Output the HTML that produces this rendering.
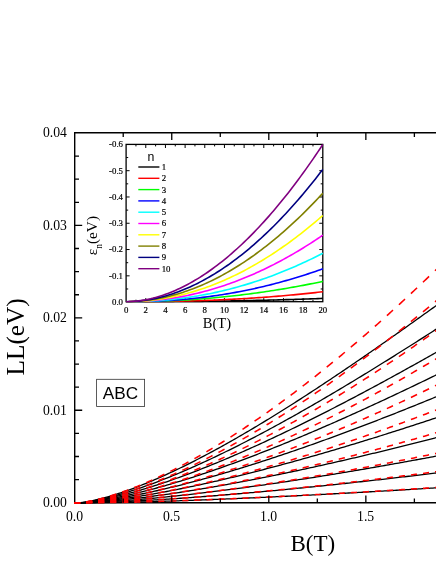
<!DOCTYPE html>
<html><head><meta charset="utf-8"><title>LL chart</title>
<style>html,body{margin:0;padding:0;background:#fff;}body{width:436px;height:564px;overflow:hidden;position:relative;font-family:"Liberation Serif",serif;}</style>
</head><body>
<svg width="436" height="564" viewBox="0 0 436 564" style="position:absolute;left:0;top:0;display:block;will-change:transform">
<rect width="436" height="564" fill="#fff"/>
<defs><clipPath id="mc"><rect x="74.00" y="132.80" width="400" height="370.80"/></clipPath>
<clipPath id="ic"><rect x="125.50" y="143.80" width="197.90" height="158.60"/></clipPath></defs>
<g stroke="#000" stroke-width="1.4" fill="none" stroke-linecap="butt">
<path d="M74.70 132.10 V502.70 H437"/>
<path d="M74.70 132.80 H437"/>
</g>
<g clip-path="url(#mc)" fill="none" stroke-linecap="butt" stroke-linejoin="round">
<polyline points="74.70,503.20 76.70,503.19 78.70,503.18 80.70,503.17 82.70,503.15 84.70,503.13 86.70,503.10 88.70,503.08 90.70,503.05 92.70,503.03 94.70,503.00 96.70,502.96 98.70,502.93 100.70,502.90 102.70,502.86 104.70,502.82 106.70,502.79 108.70,502.75 110.70,502.71 112.70,502.66 114.70,502.62 116.70,502.58 118.70,502.53 120.70,502.49 122.70,502.44 124.70,502.39 126.70,502.34 128.70,502.29 130.70,502.24 132.70,502.19 134.70,502.14 136.70,502.09 138.70,502.03 140.70,501.98 142.70,501.92 144.70,501.86 146.70,501.81 148.70,501.75 150.70,501.69 152.70,501.63 154.70,501.57 156.70,501.51 158.70,501.45 160.70,501.38 162.70,501.32 164.70,501.26 166.70,501.19 168.70,501.13 170.70,501.06 172.70,500.99 174.70,500.92 176.70,500.86 178.70,500.79 180.70,500.72 182.70,500.65 184.70,500.58 186.70,500.50 188.70,500.43 190.70,500.36 192.70,500.29 194.70,500.21 196.70,500.14 198.70,500.06 200.70,499.99 202.70,499.91 204.70,499.83 206.70,499.76 208.70,499.68 210.70,499.60 212.70,499.52 214.70,499.44 216.70,499.36 218.70,499.28 220.70,499.20 222.70,499.12 224.70,499.03 226.70,498.95 228.70,498.87 230.70,498.78 232.70,498.70 234.70,498.61 236.70,498.53 238.70,498.44 240.70,498.36 242.70,498.27 244.70,498.18 246.70,498.09 248.70,498.00 250.70,497.92 252.70,497.83 254.70,497.74 256.70,497.64 258.70,497.55 260.70,497.46 262.70,497.37 264.70,497.28 266.70,497.19 268.70,497.09 270.70,497.00 272.70,496.90 274.70,496.81 276.70,496.71 278.70,496.62 280.70,496.52 282.70,496.43 284.70,496.33 286.70,496.23 288.70,496.13 290.70,496.04 292.70,495.94 294.70,495.84 296.70,495.74 298.70,495.64 300.70,495.54 302.70,495.44 304.70,495.34 306.70,495.23 308.70,495.13 310.70,495.03 312.70,494.93 314.70,494.82 316.70,494.72 318.70,494.62 320.70,494.51 322.70,494.41 324.70,494.30 326.70,494.19 328.70,494.09 330.70,493.98 332.70,493.88 334.70,493.77 336.70,493.66 338.70,493.55 340.70,493.44 342.70,493.33 344.70,493.23 346.70,493.12 348.70,493.01 350.70,492.90 352.70,492.79 354.70,492.67 356.70,492.56 358.70,492.45 360.70,492.34 362.70,492.23 364.70,492.11 366.70,492.00 368.70,491.89 370.70,491.77 372.70,491.66 374.70,491.54 376.70,491.43 378.70,491.31 380.70,491.20 382.70,491.08 384.70,490.96 386.70,490.85 388.70,490.73 390.70,490.61 392.70,490.50 394.70,490.38 396.70,490.26 398.70,490.14 400.70,490.02 402.70,489.90 404.70,489.78 406.70,489.66 408.70,489.54 410.70,489.42 412.70,489.30 414.70,489.18 416.70,489.05 418.70,488.93 420.70,488.81 422.70,488.69 424.70,488.56 426.70,488.44 428.70,488.32 430.70,488.19 432.70,488.07 434.70,487.94 436.70,487.82 438.70,487.69" stroke="#000" stroke-width="1.3"/>
<polyline points="74.70,503.20 76.70,503.19 78.70,503.16 80.70,503.13 82.70,503.10 84.70,503.06 86.70,503.01 88.70,502.96 90.70,502.91 92.70,502.85 94.70,502.79 96.70,502.73 98.70,502.66 100.70,502.59 102.70,502.52 104.70,502.45 106.70,502.37 108.70,502.29 110.70,502.21 112.70,502.13 114.70,502.05 116.70,501.96 118.70,501.87 120.70,501.78 122.70,501.68 124.70,501.59 126.70,501.49 128.70,501.39 130.70,501.29 132.70,501.19 134.70,501.08 136.70,500.98 138.70,500.87 140.70,500.76 142.70,500.65 144.70,500.54 146.70,500.42 148.70,500.31 150.70,500.19 152.70,500.07 154.70,499.95 156.70,499.83 158.70,499.70 160.70,499.58 162.70,499.45 164.70,499.33 166.70,499.20 168.70,499.07 170.70,498.93 172.70,498.80 174.70,498.67 176.70,498.53 178.70,498.40 180.70,498.26 182.70,498.12 184.70,497.98 186.70,497.84 188.70,497.69 190.70,497.55 192.70,497.40 194.70,497.26 196.70,497.11 198.70,496.96 200.70,496.81 202.70,496.66 204.70,496.50 206.70,496.35 208.70,496.20 210.70,496.04 212.70,495.88 214.70,495.73 216.70,495.57 218.70,495.41 220.70,495.25 222.70,495.08 224.70,494.92 226.70,494.76 228.70,494.59 230.70,494.42 232.70,494.26 234.70,494.09 236.70,493.92 238.70,493.75 240.70,493.58 242.70,493.41 244.70,493.23 246.70,493.06 248.70,492.88 250.70,492.71 252.70,492.53 254.70,492.35 256.70,492.17 258.70,492.00 260.70,491.81 262.70,491.63 264.70,491.45 266.70,491.27 268.70,491.08 270.70,490.90 272.70,490.71 274.70,490.53 276.70,490.34 278.70,490.15 280.70,489.96 282.70,489.77 284.70,489.58 286.70,489.39 288.70,489.19 290.70,489.00 292.70,488.81 294.70,488.61 296.70,488.42 298.70,488.22 300.70,488.02 302.70,487.82 304.70,487.62 306.70,487.42 308.70,487.22 310.70,487.02 312.70,486.82 314.70,486.62 316.70,486.41 318.70,486.21 320.70,486.00 322.70,485.80 324.70,485.59 326.70,485.38 328.70,485.17 330.70,484.96 332.70,484.75 334.70,484.54 336.70,484.33 338.70,484.12 340.70,483.91 342.70,483.69 344.70,483.48 346.70,483.26 348.70,483.05 350.70,482.83 352.70,482.62 354.70,482.40 356.70,482.18 358.70,481.96 360.70,481.74 362.70,481.52 364.70,481.30 366.70,481.08 368.70,480.85 370.70,480.63 372.70,480.41 374.70,480.18 376.70,479.96 378.70,479.73 380.70,479.51 382.70,479.28 384.70,479.05 386.70,478.82 388.70,478.59 390.70,478.36 392.70,478.13 394.70,477.90 396.70,477.67 398.70,477.44 400.70,477.21 402.70,476.97 404.70,476.74 406.70,476.50 408.70,476.27 410.70,476.03 412.70,475.80 414.70,475.56 416.70,475.32 418.70,475.08 420.70,474.84 422.70,474.60 424.70,474.36 426.70,474.12 428.70,473.88 430.70,473.64 432.70,473.40 434.70,473.15 436.70,472.91 438.70,472.67" stroke="#000" stroke-width="1.3"/>
<polyline points="74.70,503.20 76.70,503.18 78.70,503.14 80.70,503.09 82.70,503.04 84.70,502.97 86.70,502.90 88.70,502.82 90.70,502.74 92.70,502.65 94.70,502.55 96.70,502.45 98.70,502.35 100.70,502.24 102.70,502.13 104.70,502.01 106.70,501.89 108.70,501.77 110.70,501.64 112.70,501.51 114.70,501.38 116.70,501.24 118.70,501.10 120.70,500.95 122.70,500.81 124.70,500.66 126.70,500.50 128.70,500.35 130.70,500.19 132.70,500.03 134.70,499.86 136.70,499.70 138.70,499.53 140.70,499.35 142.70,499.18 144.70,499.00 146.70,498.82 148.70,498.64 150.70,498.45 152.70,498.27 154.70,498.08 156.70,497.89 158.70,497.69 160.70,497.50 162.70,497.30 164.70,497.10 166.70,496.89 168.70,496.69 170.70,496.48 172.70,496.27 174.70,496.06 176.70,495.85 178.70,495.63 180.70,495.42 182.70,495.20 184.70,494.98 186.70,494.76 188.70,494.53 190.70,494.30 192.70,494.08 194.70,493.85 196.70,493.61 198.70,493.38 200.70,493.15 202.70,492.91 204.70,492.67 206.70,492.43 208.70,492.19 210.70,491.94 212.70,491.70 214.70,491.45 216.70,491.20 218.70,490.95 220.70,490.70 222.70,490.44 224.70,490.19 226.70,489.93 228.70,489.67 230.70,489.41 232.70,489.15 234.70,488.89 236.70,488.62 238.70,488.36 240.70,488.09 242.70,487.82 244.70,487.55 246.70,487.28 248.70,487.01 250.70,486.73 252.70,486.45 254.70,486.18 256.70,485.90 258.70,485.62 260.70,485.34 262.70,485.05 264.70,484.77 266.70,484.48 268.70,484.19 270.70,483.91 272.70,483.62 274.70,483.32 276.70,483.03 278.70,482.74 280.70,482.44 282.70,482.15 284.70,481.85 286.70,481.55 288.70,481.25 290.70,480.95 292.70,480.65 294.70,480.34 296.70,480.04 298.70,479.73 300.70,479.42 302.70,479.11 304.70,478.80 306.70,478.49 308.70,478.18 310.70,477.87 312.70,477.55 314.70,477.24 316.70,476.92 318.70,476.60 320.70,476.28 322.70,475.96 324.70,475.64 326.70,475.32 328.70,475.00 330.70,474.67 332.70,474.34 334.70,474.02 336.70,473.69 338.70,473.36 340.70,473.03 342.70,472.70 344.70,472.37 346.70,472.03 348.70,471.70 350.70,471.36 352.70,471.03 354.70,470.69 356.70,470.35 358.70,470.01 360.70,469.67 362.70,469.33 364.70,468.99 366.70,468.64 368.70,468.30 370.70,467.95 372.70,467.61 374.70,467.26 376.70,466.91 378.70,466.56 380.70,466.21 382.70,465.86 384.70,465.51 386.70,465.16 388.70,464.80 390.70,464.45 392.70,464.09 394.70,463.73 396.70,463.38 398.70,463.02 400.70,462.66 402.70,462.30 404.70,461.93 406.70,461.57 408.70,461.21 410.70,460.85 412.70,460.48 414.70,460.11 416.70,459.75 418.70,459.38 420.70,459.01 422.70,458.64 424.70,458.27 426.70,457.90 428.70,457.53 430.70,457.16 432.70,456.78 434.70,456.41 436.70,456.03 438.70,455.66" stroke="#000" stroke-width="1.3"/>
<polyline points="74.70,503.20 76.70,503.17 78.70,503.12 80.70,503.05 82.70,502.97 84.70,502.88 86.70,502.77 88.70,502.66 90.70,502.55 92.70,502.42 94.70,502.29 96.70,502.15 98.70,502.00 100.70,501.85 102.70,501.69 104.70,501.53 106.70,501.36 108.70,501.18 110.70,501.00 112.70,500.82 114.70,500.63 116.70,500.43 118.70,500.23 120.70,500.03 122.70,499.82 124.70,499.61 126.70,499.39 128.70,499.17 130.70,498.95 132.70,498.72 134.70,498.49 136.70,498.26 138.70,498.02 140.70,497.77 142.70,497.53 144.70,497.28 146.70,497.02 148.70,496.77 150.70,496.51 152.70,496.24 154.70,495.98 156.70,495.71 158.70,495.44 160.70,495.16 162.70,494.88 164.70,494.60 166.70,494.31 168.70,494.03 170.70,493.74 172.70,493.44 174.70,493.15 176.70,492.85 178.70,492.55 180.70,492.24 182.70,491.93 184.70,491.62 186.70,491.31 188.70,491.00 190.70,490.68 192.70,490.36 194.70,490.04 196.70,489.71 198.70,489.38 200.70,489.05 202.70,488.72 204.70,488.39 206.70,488.05 208.70,487.71 210.70,487.37 212.70,487.02 214.70,486.68 216.70,486.33 218.70,485.98 220.70,485.62 222.70,485.27 224.70,484.91 226.70,484.55 228.70,484.19 230.70,483.83 232.70,483.46 234.70,483.09 236.70,482.72 238.70,482.35 240.70,481.98 242.70,481.60 244.70,481.22 246.70,480.84 248.70,480.46 250.70,480.08 252.70,479.69 254.70,479.30 256.70,478.91 258.70,478.52 260.70,478.13 262.70,477.73 264.70,477.33 266.70,476.94 268.70,476.53 270.70,476.13 272.70,475.73 274.70,475.32 276.70,474.91 278.70,474.50 280.70,474.09 282.70,473.68 284.70,473.26 286.70,472.85 288.70,472.43 290.70,472.01 292.70,471.59 294.70,471.17 296.70,470.74 298.70,470.31 300.70,469.89 302.70,469.46 304.70,469.02 306.70,468.59 308.70,468.16 310.70,467.72 312.70,467.28 314.70,466.85 316.70,466.40 318.70,465.96 320.70,465.52 322.70,465.07 324.70,464.63 326.70,464.18 328.70,463.73 330.70,463.28 332.70,462.83 334.70,462.37 336.70,461.92 338.70,461.46 340.70,461.00 342.70,460.54 344.70,460.08 346.70,459.62 348.70,459.16 350.70,458.69 352.70,458.22 354.70,457.76 356.70,457.29 358.70,456.82 360.70,456.34 362.70,455.87 364.70,455.40 366.70,454.92 368.70,454.44 370.70,453.97 372.70,453.49 374.70,453.01 376.70,452.52 378.70,452.04 380.70,451.56 382.70,451.07 384.70,450.58 386.70,450.09 388.70,449.60 390.70,449.11 392.70,448.62 394.70,448.13 396.70,447.63 398.70,447.14 400.70,446.64 402.70,446.14 404.70,445.64 406.70,445.14 408.70,444.64 410.70,444.14 412.70,443.64 414.70,443.13 416.70,442.63 418.70,442.12 420.70,441.61 422.70,441.10 424.70,440.59 426.70,440.08 428.70,439.57 430.70,439.05 432.70,438.54 434.70,438.02 436.70,437.51 438.70,436.99" stroke="#000" stroke-width="1.3"/>
<polyline points="74.70,503.20 76.70,503.16 78.70,503.09 80.70,503.00 82.70,502.89 84.70,502.77 86.70,502.64 88.70,502.49 90.70,502.34 92.70,502.17 94.70,501.99 96.70,501.81 98.70,501.61 100.70,501.41 102.70,501.20 104.70,500.99 106.70,500.76 108.70,500.53 110.70,500.30 112.70,500.05 114.70,499.80 116.70,499.55 118.70,499.28 120.70,499.01 122.70,498.74 124.70,498.46 126.70,498.18 128.70,497.89 130.70,497.59 132.70,497.29 134.70,496.99 136.70,496.68 138.70,496.36 140.70,496.04 142.70,495.72 144.70,495.39 146.70,495.05 148.70,494.72 150.70,494.37 152.70,494.03 154.70,493.68 156.70,493.32 158.70,492.96 160.70,492.60 162.70,492.23 164.70,491.86 166.70,491.49 168.70,491.11 170.70,490.73 172.70,490.34 174.70,489.95 176.70,489.56 178.70,489.16 180.70,488.76 182.70,488.36 184.70,487.95 186.70,487.54 188.70,487.13 190.70,486.71 192.70,486.29 194.70,485.87 196.70,485.44 198.70,485.01 200.70,484.58 202.70,484.15 204.70,483.71 206.70,483.26 208.70,482.82 210.70,482.37 212.70,481.92 214.70,481.47 216.70,481.01 218.70,480.55 220.70,480.09 222.70,479.62 224.70,479.15 226.70,478.68 228.70,478.21 230.70,477.73 232.70,477.25 234.70,476.77 236.70,476.29 238.70,475.80 240.70,475.31 242.70,474.82 244.70,474.33 246.70,473.83 248.70,473.33 250.70,472.83 252.70,472.32 254.70,471.82 256.70,471.31 258.70,470.80 260.70,470.28 262.70,469.77 264.70,469.25 266.70,468.73 268.70,468.20 270.70,467.68 272.70,467.15 274.70,466.62 276.70,466.09 278.70,465.56 280.70,465.02 282.70,464.48 284.70,463.94 286.70,463.40 288.70,462.85 290.70,462.30 292.70,461.76 294.70,461.20 296.70,460.65 298.70,460.10 300.70,459.54 302.70,458.98 304.70,458.42 306.70,457.86 308.70,457.29 310.70,456.72 312.70,456.15 314.70,455.58 316.70,455.01 318.70,454.44 320.70,453.86 322.70,453.28 324.70,452.70 326.70,452.12 328.70,451.53 330.70,450.95 332.70,450.36 334.70,449.77 336.70,449.18 338.70,448.59 340.70,447.99 342.70,447.40 344.70,446.80 346.70,446.20 348.70,445.60 350.70,444.99 352.70,444.39 354.70,443.78 356.70,443.17 358.70,442.57 360.70,441.95 362.70,441.34 364.70,440.73 366.70,440.11 368.70,439.49 370.70,438.87 372.70,438.25 374.70,437.63 376.70,437.01 378.70,436.38 380.70,435.75 382.70,435.13 384.70,434.50 386.70,433.86 388.70,433.23 390.70,432.60 392.70,431.96 394.70,431.32 396.70,430.69 398.70,430.05 400.70,429.40 402.70,428.76 404.70,428.12 406.70,427.47 408.70,426.82 410.70,426.18 412.70,425.53 414.70,424.87 416.70,424.22 418.70,423.57 420.70,422.91 422.70,422.26 424.70,421.60 426.70,420.94 428.70,420.28 430.70,419.62 432.70,418.96 434.70,418.29 436.70,417.63 438.70,416.96" stroke="#000" stroke-width="1.3"/>
<polyline points="74.70,503.20 76.70,503.15 78.70,503.06 80.70,502.95 82.70,502.81 84.70,502.66 86.70,502.49 88.70,502.30 90.70,502.11 92.70,501.90 94.70,501.67 96.70,501.44 98.70,501.20 100.70,500.94 102.70,500.68 104.70,500.40 106.70,500.12 108.70,499.83 110.70,499.53 112.70,499.22 114.70,498.91 116.70,498.58 118.70,498.25 120.70,497.92 122.70,497.57 124.70,497.22 126.70,496.86 128.70,496.49 130.70,496.12 132.70,495.74 134.70,495.36 136.70,494.97 138.70,494.57 140.70,494.17 142.70,493.76 144.70,493.35 146.70,492.93 148.70,492.50 150.70,492.07 152.70,491.63 154.70,491.19 156.70,490.75 158.70,490.30 160.70,489.84 162.70,489.38 164.70,488.91 166.70,488.44 168.70,487.97 170.70,487.49 172.70,487.00 174.70,486.51 176.70,486.02 178.70,485.52 180.70,485.02 182.70,484.51 184.70,484.00 186.70,483.49 188.70,482.97 190.70,482.44 192.70,481.92 194.70,481.39 196.70,480.85 198.70,480.31 200.70,479.77 202.70,479.22 204.70,478.67 206.70,478.12 208.70,477.56 210.70,477.00 212.70,476.43 214.70,475.86 216.70,475.29 218.70,474.72 220.70,474.14 222.70,473.55 224.70,472.97 226.70,472.38 228.70,471.79 230.70,471.19 232.70,470.59 234.70,469.99 236.70,469.38 238.70,468.78 240.70,468.16 242.70,467.55 244.70,466.93 246.70,466.31 248.70,465.69 250.70,465.06 252.70,464.43 254.70,463.80 256.70,463.16 258.70,462.52 260.70,461.88 262.70,461.24 264.70,460.59 266.70,459.94 268.70,459.29 270.70,458.63 272.70,457.97 274.70,457.31 276.70,456.65 278.70,455.98 280.70,455.31 282.70,454.64 284.70,453.97 286.70,453.29 288.70,452.61 290.70,451.93 292.70,451.25 294.70,450.56 296.70,449.87 298.70,449.18 300.70,448.49 302.70,447.79 304.70,447.09 306.70,446.39 308.70,445.69 310.70,444.99 312.70,444.28 314.70,443.57 316.70,442.86 318.70,442.14 320.70,441.43 322.70,440.71 324.70,439.99 326.70,439.26 328.70,438.54 330.70,437.81 332.70,437.08 334.70,436.35 336.70,435.62 338.70,434.88 340.70,434.14 342.70,433.40 344.70,432.66 346.70,431.92 348.70,431.17 350.70,430.43 352.70,429.68 354.70,428.93 356.70,428.17 358.70,427.42 360.70,426.66 362.70,425.90 364.70,425.14 366.70,424.38 368.70,423.61 370.70,422.85 372.70,422.08 374.70,421.31 376.70,420.54 378.70,419.76 380.70,418.99 382.70,418.21 384.70,417.43 386.70,416.65 388.70,415.87 390.70,415.09 392.70,414.30 394.70,413.52 396.70,412.73 398.70,411.94 400.70,411.14 402.70,410.35 404.70,409.56 406.70,408.76 408.70,407.96 410.70,407.16 412.70,406.36 414.70,405.56 416.70,404.75 418.70,403.95 420.70,403.14 422.70,402.33 424.70,401.52 426.70,400.71 428.70,399.90 430.70,399.08 432.70,398.27 434.70,397.45 436.70,396.63 438.70,395.81" stroke="#000" stroke-width="1.3"/>
<polyline points="74.70,503.20 76.70,503.14 78.70,503.03 80.70,502.89 82.70,502.73 84.70,502.54 86.70,502.33 88.70,502.10 90.70,501.86 92.70,501.60 94.70,501.33 96.70,501.05 98.70,500.75 100.70,500.44 102.70,500.11 104.70,499.78 106.70,499.44 108.70,499.08 110.70,498.71 112.70,498.34 114.70,497.95 116.70,497.56 118.70,497.15 120.70,496.74 122.70,496.32 124.70,495.89 126.70,495.45 128.70,495.00 130.70,494.55 132.70,494.09 134.70,493.62 136.70,493.14 138.70,492.66 140.70,492.17 142.70,491.67 144.70,491.16 146.70,490.65 148.70,490.13 150.70,489.61 152.70,489.08 154.70,488.54 156.70,488.00 158.70,487.45 160.70,486.89 162.70,486.33 164.70,485.76 166.70,485.19 168.70,484.61 170.70,484.03 172.70,483.44 174.70,482.84 176.70,482.24 178.70,481.64 180.70,481.03 182.70,480.41 184.70,479.79 186.70,479.16 188.70,478.53 190.70,477.90 192.70,477.26 194.70,476.61 196.70,475.96 198.70,475.31 200.70,474.65 202.70,473.99 204.70,473.32 206.70,472.64 208.70,471.97 210.70,471.29 212.70,470.60 214.70,469.91 216.70,469.22 218.70,468.52 220.70,467.82 222.70,467.11 224.70,466.40 226.70,465.69 228.70,464.97 230.70,464.25 232.70,463.52 234.70,462.79 236.70,462.06 238.70,461.32 240.70,460.58 242.70,459.84 244.70,459.09 246.70,458.34 248.70,457.58 250.70,456.83 252.70,456.06 254.70,455.30 256.70,454.53 258.70,453.76 260.70,452.98 262.70,452.20 264.70,451.42 266.70,450.64 268.70,449.85 270.70,449.06 272.70,448.26 274.70,447.46 276.70,446.66 278.70,445.86 280.70,445.05 282.70,444.24 284.70,443.43 286.70,442.61 288.70,441.80 290.70,440.97 292.70,440.15 294.70,439.32 296.70,438.49 298.70,437.66 300.70,436.82 302.70,435.99 304.70,435.14 306.70,434.30 308.70,433.45 310.70,432.61 312.70,431.75 314.70,430.90 316.70,430.04 318.70,429.18 320.70,428.32 322.70,427.46 324.70,426.59 326.70,425.72 328.70,424.85 330.70,423.98 332.70,423.10 334.70,422.22 336.70,421.34 338.70,420.46 340.70,419.57 342.70,418.68 344.70,417.79 346.70,416.90 348.70,416.01 350.70,415.11 352.70,414.21 354.70,413.31 356.70,412.41 358.70,411.50 360.70,410.59 362.70,409.68 364.70,408.77 366.70,407.86 368.70,406.94 370.70,406.03 372.70,405.11 374.70,404.19 376.70,403.26 378.70,402.34 380.70,401.41 382.70,400.48 384.70,399.55 386.70,398.62 388.70,397.68 390.70,396.74 392.70,395.81 394.70,394.86 396.70,393.92 398.70,392.98 400.70,392.03 402.70,391.09 404.70,390.14 406.70,389.19 408.70,388.23 410.70,387.28 412.70,386.32 414.70,385.37 416.70,384.41 418.70,383.45 420.70,382.48 422.70,381.52 424.70,380.56 426.70,379.59 428.70,378.62 430.70,377.65 432.70,376.68 434.70,375.71 436.70,374.73 438.70,373.76" stroke="#000" stroke-width="1.3"/>
<polyline points="74.70,503.20 76.70,503.13 78.70,503.00 80.70,502.83 82.70,502.63 84.70,502.41 86.70,502.16 88.70,501.89 90.70,501.60 92.70,501.29 94.70,500.97 96.70,500.63 98.70,500.27 100.70,499.90 102.70,499.52 104.70,499.12 106.70,498.71 108.70,498.28 110.70,497.84 112.70,497.40 114.70,496.94 116.70,496.47 118.70,495.98 120.70,495.49 122.70,494.99 124.70,494.48 126.70,493.96 128.70,493.42 130.70,492.88 132.70,492.33 134.70,491.78 136.70,491.21 138.70,490.63 140.70,490.05 142.70,489.46 144.70,488.85 146.70,488.25 148.70,487.63 150.70,487.01 152.70,486.37 154.70,485.74 156.70,485.09 158.70,484.44 160.70,483.78 162.70,483.11 164.70,482.44 166.70,481.76 168.70,481.07 170.70,480.37 172.70,479.67 174.70,478.97 176.70,478.26 178.70,477.54 180.70,476.81 182.70,476.08 184.70,475.35 186.70,474.60 188.70,473.85 190.70,473.10 192.70,472.34 194.70,471.58 196.70,470.81 198.70,470.03 200.70,469.25 202.70,468.46 204.70,467.67 206.70,466.88 208.70,466.07 210.70,465.27 212.70,464.46 214.70,463.64 216.70,462.82 218.70,461.99 220.70,461.16 222.70,460.33 224.70,459.49 226.70,458.64 228.70,457.79 230.70,456.94 232.70,456.08 234.70,455.22 236.70,454.36 238.70,453.48 240.70,452.61 242.70,451.73 244.70,450.85 246.70,449.96 248.70,449.07 250.70,448.17 252.70,447.28 254.70,446.37 256.70,445.47 258.70,444.56 260.70,443.64 262.70,442.72 264.70,441.80 266.70,440.88 268.70,439.95 270.70,439.01 272.70,438.08 274.70,437.14 276.70,436.19 278.70,435.25 280.70,434.30 282.70,433.34 284.70,432.39 286.70,431.43 288.70,430.46 290.70,429.50 292.70,428.53 294.70,427.56 296.70,426.58 298.70,425.60 300.70,424.62 302.70,423.63 304.70,422.65 306.70,421.65 308.70,420.66 310.70,419.66 312.70,418.66 314.70,417.66 316.70,416.66 318.70,415.65 320.70,414.64 322.70,413.62 324.70,412.61 326.70,411.59 328.70,410.56 330.70,409.54 332.70,408.51 334.70,407.48 336.70,406.45 338.70,405.42 340.70,404.38 342.70,403.34 344.70,402.30 346.70,401.25 348.70,400.20 350.70,399.15 352.70,398.10 354.70,397.05 356.70,395.99 358.70,394.93 360.70,393.87 362.70,392.81 364.70,391.74 366.70,390.68 368.70,389.61 370.70,388.53 372.70,387.46 374.70,386.38 376.70,385.31 378.70,384.23 380.70,383.14 382.70,382.06 384.70,380.97 386.70,379.88 388.70,378.79 390.70,377.70 392.70,376.61 394.70,375.51 396.70,374.41 398.70,373.31 400.70,372.21 402.70,371.11 404.70,370.00 406.70,368.90 408.70,367.79 410.70,366.68 412.70,365.57 414.70,364.45 416.70,363.34 418.70,362.22 420.70,361.10 422.70,359.98 424.70,358.86 426.70,357.74 428.70,356.61 430.70,355.49 432.70,354.36 434.70,353.23 436.70,352.10 438.70,350.96" stroke="#000" stroke-width="1.3"/>
<polyline points="74.70,503.20 76.70,503.12 78.70,502.96 80.70,502.77 82.70,502.54 84.70,502.27 86.70,501.98 88.70,501.67 90.70,501.33 92.70,500.97 94.70,500.59 96.70,500.19 98.70,499.77 100.70,499.34 102.70,498.89 104.70,498.42 106.70,497.94 108.70,497.44 110.70,496.93 112.70,496.41 114.70,495.87 116.70,495.32 118.70,494.75 120.70,494.18 122.70,493.59 124.70,492.99 126.70,492.38 128.70,491.76 130.70,491.13 132.70,490.49 134.70,489.84 136.70,489.17 138.70,488.50 140.70,487.82 142.70,487.13 144.70,486.43 146.70,485.72 148.70,485.00 150.70,484.27 152.70,483.53 154.70,482.79 156.70,482.03 158.70,481.27 160.70,480.50 162.70,479.73 164.70,478.94 166.70,478.15 168.70,477.35 170.70,476.54 172.70,475.72 174.70,474.90 176.70,474.07 178.70,473.23 180.70,472.39 182.70,471.54 184.70,470.68 186.70,469.82 188.70,468.95 190.70,468.07 192.70,467.19 194.70,466.30 196.70,465.40 198.70,464.50 200.70,463.59 202.70,462.68 204.70,461.76 206.70,460.84 208.70,459.91 210.70,458.97 212.70,458.03 214.70,457.08 216.70,456.13 218.70,455.17 220.70,454.20 222.70,453.23 224.70,452.26 226.70,451.28 228.70,450.30 230.70,449.31 232.70,448.31 234.70,447.31 236.70,446.31 238.70,445.30 240.70,444.29 242.70,443.27 244.70,442.24 246.70,441.22 248.70,440.19 250.70,439.15 252.70,438.11 254.70,437.06 256.70,436.01 258.70,434.96 260.70,433.90 262.70,432.84 264.70,431.78 266.70,430.71 268.70,429.63 270.70,428.55 272.70,427.47 274.70,426.39 276.70,425.30 278.70,424.20 280.70,423.11 282.70,422.00 284.70,420.90 286.70,419.79 288.70,418.68 290.70,417.57 292.70,416.45 294.70,415.32 296.70,414.20 298.70,413.07 300.70,411.94 302.70,410.80 304.70,409.66 306.70,408.52 308.70,407.38 310.70,406.23 312.70,405.08 314.70,403.92 316.70,402.76 318.70,401.60 320.70,400.44 322.70,399.27 324.70,398.10 326.70,396.93 328.70,395.76 330.70,394.58 332.70,393.40 334.70,392.21 336.70,391.03 338.70,389.84 340.70,388.65 342.70,387.45 344.70,386.26 346.70,385.06 348.70,383.85 350.70,382.65 352.70,381.44 354.70,380.23 356.70,379.02 358.70,377.81 360.70,376.59 362.70,375.37 364.70,374.15 366.70,372.93 368.70,371.70 370.70,370.47 372.70,369.24 374.70,368.01 376.70,366.78 378.70,365.54 380.70,364.30 382.70,363.06 384.70,361.82 386.70,360.58 388.70,359.33 390.70,358.08 392.70,356.83 394.70,355.58 396.70,354.32 398.70,353.07 400.70,351.81 402.70,350.55 404.70,349.29 406.70,348.02 408.70,346.76 410.70,345.49 412.70,344.22 414.70,342.95 416.70,341.68 418.70,340.41 420.70,339.13 422.70,337.86 424.70,336.58 426.70,335.30 428.70,334.02 430.70,332.74 432.70,331.45 434.70,330.17 436.70,328.88 438.70,327.59" stroke="#000" stroke-width="1.3"/>
<polyline points="74.70,503.20 76.70,503.10 78.70,502.93 80.70,502.70 82.70,502.43 84.70,502.13 86.70,501.79 88.70,501.43 90.70,501.04 92.70,500.62 94.70,500.19 96.70,499.73 98.70,499.24 100.70,498.74 102.70,498.22 104.70,497.69 106.70,497.13 108.70,496.56 110.70,495.97 112.70,495.37 114.70,494.75 116.70,494.11 118.70,493.46 120.70,492.80 122.70,492.13 124.70,491.44 126.70,490.74 128.70,490.02 130.70,489.29 132.70,488.56 134.70,487.81 136.70,487.04 138.70,486.27 140.70,485.49 142.70,484.69 144.70,483.89 146.70,483.07 148.70,482.24 150.70,481.41 152.70,480.56 154.70,479.71 156.70,478.84 158.70,477.97 160.70,477.08 162.70,476.19 164.70,475.29 166.70,474.38 168.70,473.46 170.70,472.53 172.70,471.60 174.70,470.66 176.70,469.70 178.70,468.74 180.70,467.78 182.70,466.80 184.70,465.82 186.70,464.83 188.70,463.83 190.70,462.83 192.70,461.82 194.70,460.80 196.70,459.78 198.70,458.74 200.70,457.70 202.70,456.66 204.70,455.61 206.70,454.55 208.70,453.48 210.70,452.41 212.70,451.33 214.70,450.25 216.70,449.16 218.70,448.07 220.70,446.96 222.70,445.86 224.70,444.74 226.70,443.63 228.70,442.50 230.70,441.37 232.70,440.24 234.70,439.10 236.70,437.95 238.70,436.80 240.70,435.64 242.70,434.48 244.70,433.31 246.70,432.14 248.70,430.97 250.70,429.79 252.70,428.60 254.70,427.41 256.70,426.21 258.70,425.01 260.70,423.81 262.70,422.60 264.70,421.39 266.70,420.17 268.70,418.95 270.70,417.72 272.70,416.49 274.70,415.25 276.70,414.01 278.70,412.77 280.70,411.52 282.70,410.27 284.70,409.02 286.70,407.76 288.70,406.49 290.70,405.23 292.70,403.96 294.70,402.68 296.70,401.40 298.70,400.12 300.70,398.84 302.70,397.55 304.70,396.26 306.70,394.96 308.70,393.66 310.70,392.36 312.70,391.06 314.70,389.75 316.70,388.44 318.70,387.12 320.70,385.80 322.70,384.48 324.70,383.16 326.70,381.83 328.70,380.50 330.70,379.17 332.70,377.83 334.70,376.49 336.70,375.15 338.70,373.80 340.70,372.46 342.70,371.11 344.70,369.75 346.70,368.40 348.70,367.04 350.70,365.68 352.70,364.32 354.70,362.95 356.70,361.58 358.70,360.21 360.70,358.84 362.70,357.46 364.70,356.09 366.70,354.71 368.70,353.33 370.70,351.94 372.70,350.55 374.70,349.17 376.70,347.78 378.70,346.38 380.70,344.99 382.70,343.59 384.70,342.19 386.70,340.79 388.70,339.39 390.70,337.98 392.70,336.58 394.70,335.17 396.70,333.76 398.70,332.35 400.70,330.93 402.70,329.52 404.70,328.10 406.70,326.68 408.70,325.26 410.70,323.84 412.70,322.42 414.70,320.99 416.70,319.56 418.70,318.14 420.70,316.71 422.70,315.28 424.70,313.84 426.70,312.41 428.70,310.97 430.70,309.54 432.70,308.10 434.70,306.66 436.70,305.22 438.70,303.78" stroke="#000" stroke-width="1.3"/>
<path d="M74.10 503.20 L75.62 503.20 L77.15 503.19 L78.67 503.18 L80.20 503.17M86.13 503.11 L87.66 503.09 L89.18 503.07 L90.70 503.05 L92.23 503.03M98.16 502.94 L99.69 502.91 L101.21 502.89 L102.73 502.86 L104.26 502.83M110.19 502.72 L111.72 502.68 L113.24 502.65 L114.76 502.62 L116.29 502.59M122.22 502.45 L123.75 502.41 L125.27 502.38 L126.79 502.34 L128.32 502.30M134.25 502.15 L135.78 502.11 L137.30 502.06 L138.82 502.02 L140.35 501.98M146.28 501.81 L147.80 501.77 L149.33 501.72 L150.85 501.68 L152.38 501.63M158.31 501.45 L159.84 501.40 L161.36 501.35 L162.88 501.30 L164.41 501.25M170.34 501.06 L171.86 501.00 L173.39 500.95 L174.91 500.90 L176.44 500.85M182.37 500.64 L183.90 500.58 L185.42 500.53 L186.94 500.47 L188.47 500.42M194.40 500.20 L195.92 500.14 L197.45 500.08 L198.97 500.02 L200.50 499.97M206.43 499.73 L207.95 499.67 L209.48 499.61 L211.00 499.55 L212.53 499.49M218.46 499.25 L219.98 499.19 L221.51 499.12 L223.03 499.06 L224.56 499.00M230.49 498.74 L232.01 498.68 L233.54 498.61 L235.06 498.55 L236.59 498.48M242.52 498.22 L244.04 498.15 L245.57 498.08 L247.09 498.01 L248.62 497.94M254.55 497.67 L256.07 497.60 L257.60 497.53 L259.12 497.46 L260.65 497.39M266.58 497.11 L268.11 497.04 L269.63 496.96 L271.15 496.89 L272.68 496.82M278.61 496.53 L280.13 496.45 L281.66 496.38 L283.19 496.30 L284.71 496.22M290.64 495.93 L292.16 495.85 L293.69 495.77 L295.22 495.69 L296.74 495.62M302.67 495.31 L304.19 495.23 L305.72 495.15 L307.25 495.07 L308.77 494.99M314.70 494.68 L316.23 494.60 L317.75 494.52 L319.27 494.43 L320.80 494.35M326.73 494.03 L328.25 493.95 L329.78 493.86 L331.31 493.78 L332.83 493.69M338.76 493.37 L340.28 493.28 L341.81 493.19 L343.34 493.11 L344.86 493.02M350.79 492.69 L352.31 492.60 L353.84 492.51 L355.37 492.42 L356.89 492.34M362.82 491.99 L364.34 491.90 L365.87 491.81 L367.39 491.72 L368.92 491.63M374.85 491.28 L376.38 491.19 L377.90 491.10 L379.43 491.01 L380.95 490.92M386.88 490.56 L388.40 490.47 L389.93 490.37 L391.46 490.28 L392.98 490.19M398.91 489.82 L400.43 489.73 L401.96 489.63 L403.49 489.54 L405.01 489.44M410.94 489.07 L412.46 488.97 L413.99 488.88 L415.51 488.78 L417.04 488.68M422.97 488.30 L424.50 488.21 L426.02 488.11 L427.55 488.01 L429.07 487.91M435.00 487.53 L436.52 487.43 L438.05 487.33 L439.58 487.23 L441.10 487.13" stroke="#ff0000" stroke-width="1.55"/>
<path d="M74.10 503.20 L75.62 503.20 L77.15 503.18 L78.67 503.16 L80.20 503.14M86.13 503.02 L87.66 502.99 L89.18 502.95 L90.70 502.91 L92.23 502.86M98.16 502.68 L99.69 502.63 L101.21 502.57 L102.73 502.52 L104.26 502.46M110.19 502.23 L111.72 502.17 L113.24 502.10 L114.76 502.04 L116.29 501.97M122.22 501.70 L123.75 501.63 L125.27 501.55 L126.79 501.48 L128.32 501.40M134.25 501.09 L135.78 501.01 L137.30 500.93 L138.82 500.85 L140.35 500.76M146.28 500.42 L147.80 500.33 L149.33 500.24 L150.85 500.15 L152.38 500.06M158.31 499.70 L159.84 499.60 L161.36 499.50 L162.88 499.40 L164.41 499.31M170.34 498.91 L171.86 498.81 L173.39 498.71 L174.91 498.60 L176.44 498.50M182.37 498.08 L183.90 497.97 L185.42 497.86 L186.94 497.75 L188.47 497.64M194.40 497.20 L195.92 497.08 L197.45 496.97 L198.97 496.85 L200.50 496.73M206.43 496.27 L207.95 496.15 L209.48 496.03 L211.00 495.91 L212.53 495.78M218.46 495.30 L219.98 495.17 L221.51 495.05 L223.03 494.92 L224.56 494.79M230.49 494.29 L232.01 494.16 L233.54 494.02 L235.06 493.89 L236.59 493.76M242.52 493.23 L244.04 493.10 L245.57 492.96 L247.09 492.82 L248.62 492.69M254.55 492.14 L256.07 492.00 L257.60 491.86 L259.12 491.72 L260.65 491.58M266.58 491.02 L268.11 490.87 L269.63 490.72 L271.15 490.58 L272.68 490.43M278.61 489.85 L280.13 489.70 L281.66 489.55 L283.19 489.40 L284.71 489.25M290.64 488.65 L292.16 488.50 L293.69 488.35 L295.22 488.19 L296.74 488.03M302.67 487.42 L304.19 487.26 L305.72 487.10 L307.25 486.94 L308.77 486.78M314.70 486.16 L316.23 485.99 L317.75 485.83 L319.27 485.67 L320.80 485.50M326.73 484.86 L328.25 484.69 L329.78 484.53 L331.31 484.36 L332.83 484.19M338.76 483.53 L340.28 483.36 L341.81 483.19 L343.34 483.02 L344.86 482.85M350.79 482.17 L352.31 482.00 L353.84 481.82 L355.37 481.65 L356.89 481.47M362.82 480.78 L364.34 480.60 L365.87 480.43 L367.39 480.25 L368.92 480.07M374.85 479.36 L376.38 479.18 L377.90 479.00 L379.43 478.82 L380.95 478.63M386.88 477.92 L388.40 477.73 L389.93 477.54 L391.46 477.36 L392.98 477.17M398.91 476.44 L400.43 476.25 L401.96 476.06 L403.49 475.87 L405.01 475.68M410.94 474.94 L412.46 474.75 L413.99 474.55 L415.51 474.36 L417.04 474.17M422.97 473.41 L424.50 473.21 L426.02 473.02 L427.55 472.82 L429.07 472.62M435.00 471.85 L436.52 471.65 L438.05 471.45 L439.58 471.25 L441.10 471.05" stroke="#ff0000" stroke-width="1.55"/>
<path d="M74.10 503.20 L75.62 503.19 L77.15 503.17 L78.67 503.14 L80.20 503.11M86.13 502.92 L87.66 502.86 L89.18 502.80 L90.70 502.74 L92.23 502.67M98.16 502.38 L99.69 502.29 L101.21 502.21 L102.73 502.12 L104.26 502.04M110.19 501.67 L111.72 501.57 L113.24 501.47 L114.76 501.36 L116.29 501.26M122.22 500.83 L123.75 500.71 L125.27 500.59 L126.79 500.47 L128.32 500.35M134.25 499.87 L135.78 499.74 L137.30 499.61 L138.82 499.48 L140.35 499.34M146.28 498.81 L147.80 498.67 L149.33 498.53 L150.85 498.38 L152.38 498.24M158.31 497.66 L159.84 497.51 L161.36 497.35 L162.88 497.20 L164.41 497.04M170.34 496.42 L171.86 496.26 L173.39 496.09 L174.91 495.93 L176.44 495.76M182.37 495.10 L183.90 494.93 L185.42 494.76 L186.94 494.58 L188.47 494.40M194.40 493.71 L195.92 493.53 L197.45 493.34 L198.97 493.16 L200.50 492.97M206.43 492.24 L207.95 492.05 L209.48 491.86 L211.00 491.67 L212.53 491.47M218.46 490.71 L219.98 490.51 L221.51 490.31 L223.03 490.11 L224.56 489.90M230.49 489.11 L232.01 488.90 L233.54 488.69 L235.06 488.48 L236.59 488.27M242.52 487.44 L244.04 487.23 L245.57 487.01 L247.09 486.79 L248.62 486.58M254.55 485.72 L256.07 485.50 L257.60 485.27 L259.12 485.05 L260.65 484.82M266.58 483.94 L268.11 483.71 L269.63 483.47 L271.15 483.24 L272.68 483.01M278.61 482.10 L280.13 481.86 L281.66 481.62 L283.19 481.38 L284.71 481.14M290.64 480.20 L292.16 479.96 L293.69 479.71 L295.22 479.47 L296.74 479.22M302.67 478.25 L304.19 478.00 L305.72 477.75 L307.25 477.50 L308.77 477.25M314.70 476.25 L316.23 476.00 L317.75 475.74 L319.27 475.48 L320.80 475.22M326.73 474.20 L328.25 473.94 L329.78 473.67 L331.31 473.41 L332.83 473.14M338.76 472.10 L340.28 471.83 L341.81 471.56 L343.34 471.29 L344.86 471.02M350.79 469.95 L352.31 469.68 L353.84 469.40 L355.37 469.12 L356.89 468.84M362.82 467.75 L364.34 467.47 L365.87 467.19 L367.39 466.91 L368.92 466.62M374.85 465.51 L376.38 465.22 L377.90 464.94 L379.43 464.65 L380.95 464.36M386.88 463.22 L388.40 462.93 L389.93 462.64 L391.46 462.34 L392.98 462.05M398.91 460.89 L400.43 460.59 L401.96 460.29 L403.49 459.99 L405.01 459.69M410.94 458.51 L412.46 458.21 L413.99 457.90 L415.51 457.60 L417.04 457.29M422.97 456.09 L424.50 455.78 L426.02 455.47 L427.55 455.16 L429.07 454.85M435.00 453.63 L436.52 453.32 L438.05 453.00 L439.58 452.69 L441.10 452.37" stroke="#ff0000" stroke-width="1.55"/>
<path d="M74.10 503.20 L75.62 503.19 L77.15 503.16 L78.67 503.12 L80.20 503.07M86.13 502.80 L87.66 502.72 L89.18 502.64 L90.70 502.54 L92.23 502.45M98.16 502.04 L99.69 501.92 L101.21 501.80 L102.73 501.68 L104.26 501.55M110.19 501.03 L111.72 500.89 L113.24 500.75 L114.76 500.60 L116.29 500.45M122.22 499.84 L123.75 499.68 L125.27 499.51 L126.79 499.35 L128.32 499.18M134.25 498.49 L135.78 498.31 L137.30 498.12 L138.82 497.94 L140.35 497.75M146.28 496.99 L147.80 496.79 L149.33 496.59 L150.85 496.39 L152.38 496.18M158.31 495.36 L159.84 495.15 L161.36 494.93 L162.88 494.71 L164.41 494.49M170.34 493.61 L171.86 493.38 L173.39 493.15 L174.91 492.92 L176.44 492.68M182.37 491.75 L183.90 491.50 L185.42 491.26 L186.94 491.01 L188.47 490.76M194.40 489.78 L195.92 489.52 L197.45 489.26 L198.97 489.00 L200.50 488.74M206.43 487.70 L207.95 487.43 L209.48 487.16 L211.00 486.89 L212.53 486.61M218.46 485.53 L219.98 485.25 L221.51 484.97 L223.03 484.68 L224.56 484.40M230.49 483.27 L232.01 482.98 L233.54 482.68 L235.06 482.38 L236.59 482.09M242.52 480.92 L244.04 480.61 L245.57 480.31 L247.09 480.00 L248.62 479.69M254.55 478.48 L256.07 478.16 L257.60 477.85 L259.12 477.53 L260.65 477.21M266.58 475.96 L268.11 475.63 L269.63 475.30 L271.15 474.98 L272.68 474.65M278.61 473.35 L280.13 473.02 L281.66 472.68 L283.19 472.34 L284.71 472.01M290.64 470.68 L292.16 470.33 L293.69 469.98 L295.22 469.64 L296.74 469.29M302.67 467.92 L304.19 467.57 L305.72 467.21 L307.25 466.85 L308.77 466.49M314.70 465.09 L316.23 464.73 L317.75 464.36 L319.27 464.00 L320.80 463.63M326.73 462.19 L328.25 461.82 L329.78 461.44 L331.31 461.07 L332.83 460.69M338.76 459.22 L340.28 458.84 L341.81 458.45 L343.34 458.07 L344.86 457.69M350.79 456.18 L352.31 455.79 L353.84 455.40 L355.37 455.01 L356.89 454.61M362.82 453.07 L364.34 452.67 L365.87 452.27 L367.39 451.87 L368.92 451.47M374.85 449.90 L376.38 449.49 L377.90 449.09 L379.43 448.68 L380.95 448.27M386.88 446.66 L388.40 446.25 L389.93 445.83 L391.46 445.42 L392.98 445.00M398.91 443.36 L400.43 442.94 L401.96 442.52 L403.49 442.09 L405.01 441.67M410.94 440.00 L412.46 439.57 L413.99 439.14 L415.51 438.71 L417.04 438.28M422.97 436.58 L424.50 436.14 L426.02 435.71 L427.55 435.27 L429.07 434.82M435.00 433.10 L436.52 432.66 L438.05 432.21 L439.58 431.76 L441.10 431.31" stroke="#ff0000" stroke-width="1.55"/>
<path d="M74.10 503.20 L75.62 503.19 L77.15 503.15 L78.67 503.09 L80.20 503.03M86.13 502.68 L87.66 502.57 L89.18 502.45 L90.70 502.33 L92.23 502.20M98.16 501.66 L99.69 501.51 L101.21 501.35 L102.73 501.19 L104.26 501.02M110.19 500.33 L111.72 500.15 L113.24 499.96 L114.76 499.76 L116.29 499.56M122.22 498.76 L123.75 498.54 L125.27 498.32 L126.79 498.10 L128.32 497.88M134.25 496.97 L135.78 496.73 L137.30 496.48 L138.82 496.24 L140.35 495.99M146.28 494.99 L147.80 494.72 L149.33 494.46 L150.85 494.19 L152.38 493.92M158.31 492.83 L159.84 492.55 L161.36 492.26 L162.88 491.97 L164.41 491.68M170.34 490.52 L171.86 490.21 L173.39 489.91 L174.91 489.60 L176.44 489.29M182.37 488.05 L183.90 487.73 L185.42 487.40 L186.94 487.08 L188.47 486.75M194.40 485.44 L195.92 485.10 L197.45 484.76 L198.97 484.41 L200.50 484.07M206.43 482.70 L207.95 482.34 L209.48 481.98 L211.00 481.62 L212.53 481.26M218.46 479.83 L219.98 479.46 L221.51 479.08 L223.03 478.70 L224.56 478.32M230.49 476.83 L232.01 476.45 L233.54 476.06 L235.06 475.66 L236.59 475.27M242.52 473.72 L244.04 473.32 L245.57 472.91 L247.09 472.51 L248.62 472.10M254.55 470.50 L256.07 470.08 L257.60 469.66 L259.12 469.24 L260.65 468.82M266.58 467.16 L268.11 466.73 L269.63 466.30 L271.15 465.86 L272.68 465.43M278.61 463.72 L280.13 463.27 L281.66 462.83 L283.19 462.38 L284.71 461.93M290.64 460.17 L292.16 459.72 L293.69 459.26 L295.22 458.80 L296.74 458.34M302.67 456.53 L304.19 456.06 L305.72 455.59 L307.25 455.12 L308.77 454.64M314.70 452.79 L316.23 452.30 L317.75 451.82 L319.27 451.34 L320.80 450.85M326.73 448.95 L328.25 448.46 L329.78 447.96 L331.31 447.46 L332.83 446.97M338.76 445.02 L340.28 444.51 L341.81 444.01 L343.34 443.50 L344.86 442.99M350.79 441.00 L352.31 440.48 L353.84 439.96 L355.37 439.44 L356.89 438.92M362.82 436.89 L364.34 436.36 L365.87 435.83 L367.39 435.30 L368.92 434.77M374.85 432.69 L376.38 432.15 L377.90 431.61 L379.43 431.07 L380.95 430.53M386.88 428.41 L388.40 427.86 L389.93 427.31 L391.46 426.76 L392.98 426.21M398.91 424.05 L400.43 423.49 L401.96 422.93 L403.49 422.36 L405.01 421.80M410.94 419.60 L412.46 419.03 L413.99 418.46 L415.51 417.89 L417.04 417.31M422.97 415.07 L424.50 414.49 L426.02 413.91 L427.55 413.33 L429.07 412.75M435.00 410.47 L436.52 409.88 L438.05 409.29 L439.58 408.70 L441.10 408.10" stroke="#ff0000" stroke-width="1.55"/>
<path d="M74.10 503.20 L75.62 503.18 L77.15 503.13 L78.67 503.06 L80.20 502.98M86.13 502.54 L87.66 502.40 L89.18 502.25 L90.70 502.10 L92.23 501.94M98.16 501.25 L99.69 501.06 L101.21 500.86 L102.73 500.65 L104.26 500.44M110.19 499.57 L111.72 499.34 L113.24 499.10 L114.76 498.85 L116.29 498.60M122.22 497.58 L123.75 497.31 L125.27 497.03 L126.79 496.75 L128.32 496.47M134.25 495.32 L135.78 495.01 L137.30 494.71 L138.82 494.39 L140.35 494.08M146.28 492.81 L147.80 492.48 L149.33 492.14 L150.85 491.80 L152.38 491.46M158.31 490.09 L159.84 489.73 L161.36 489.36 L162.88 489.00 L164.41 488.63M170.34 487.16 L171.86 486.77 L173.39 486.38 L174.91 485.99 L176.44 485.60M182.37 484.04 L183.90 483.63 L185.42 483.22 L186.94 482.80 L188.47 482.39M194.40 480.74 L195.92 480.31 L197.45 479.87 L198.97 479.44 L200.50 479.00M206.43 477.27 L207.95 476.82 L209.48 476.36 L211.00 475.91 L212.53 475.45M218.46 473.64 L219.98 473.17 L221.51 472.69 L223.03 472.21 L224.56 471.74M230.49 469.85 L232.01 469.36 L233.54 468.87 L235.06 468.37 L236.59 467.87M242.52 465.91 L244.04 465.40 L245.57 464.89 L247.09 464.38 L248.62 463.86M254.55 461.83 L256.07 461.31 L257.60 460.78 L259.12 460.24 L260.65 459.71M266.58 457.61 L268.11 457.07 L269.63 456.52 L271.15 455.97 L272.68 455.42M278.61 453.26 L280.13 452.70 L281.66 452.13 L283.19 451.57 L284.71 451.00M290.64 448.78 L292.16 448.20 L293.69 447.62 L295.22 447.04 L296.74 446.45M302.67 444.16 L304.19 443.57 L305.72 442.98 L307.25 442.38 L308.77 441.78M314.70 439.43 L316.23 438.82 L317.75 438.21 L319.27 437.60 L320.80 436.98M326.73 434.58 L328.25 433.95 L329.78 433.33 L331.31 432.70 L332.83 432.07M338.76 429.60 L340.28 428.97 L341.81 428.33 L343.34 427.68 L344.86 427.04M350.79 424.52 L352.31 423.87 L353.84 423.21 L355.37 422.55 L356.89 421.90M362.82 419.32 L364.34 418.65 L365.87 417.99 L367.39 417.31 L368.92 416.64M374.85 414.01 L376.38 413.33 L377.90 412.65 L379.43 411.97 L380.95 411.28M386.88 408.60 L388.40 407.90 L389.93 407.21 L391.46 406.51 L392.98 405.81M398.91 403.08 L400.43 402.37 L401.96 401.66 L403.49 400.95 L405.01 400.24M410.94 397.45 L412.46 396.73 L413.99 396.01 L415.51 395.29 L417.04 394.56M422.97 391.73 L424.50 390.99 L426.02 390.26 L427.55 389.52 L429.07 388.79M435.00 385.90 L436.52 385.16 L438.05 384.41 L439.58 383.66 L441.10 382.91" stroke="#ff0000" stroke-width="1.55"/>
<path d="M74.10 503.20 L75.62 503.18 L77.15 503.12 L78.67 503.03 L80.20 502.93M86.13 502.39 L87.66 502.22 L89.18 502.04 L90.70 501.85 L92.23 501.66M98.16 500.81 L99.69 500.58 L101.21 500.33 L102.73 500.08 L104.26 499.82M110.19 498.76 L111.72 498.47 L113.24 498.17 L114.76 497.87 L116.29 497.57M122.22 496.32 L123.75 495.99 L125.27 495.65 L126.79 495.30 L128.32 494.95M134.25 493.55 L135.78 493.17 L137.30 492.80 L138.82 492.41 L140.35 492.03M146.28 490.48 L147.80 490.07 L149.33 489.66 L150.85 489.24 L152.38 488.82M158.31 487.14 L159.84 486.70 L161.36 486.25 L162.88 485.80 L164.41 485.35M170.34 483.55 L171.86 483.08 L173.39 482.61 L174.91 482.13 L176.44 481.64M182.37 479.73 L183.90 479.23 L185.42 478.73 L186.94 478.22 L188.47 477.71M194.40 475.69 L195.92 475.16 L197.45 474.63 L198.97 474.10 L200.50 473.56M206.43 471.44 L207.95 470.89 L209.48 470.33 L211.00 469.77 L212.53 469.21M218.46 466.99 L219.98 466.41 L221.51 465.83 L223.03 465.25 L224.56 464.66M230.49 462.35 L232.01 461.75 L233.54 461.15 L235.06 460.54 L236.59 459.93M242.52 457.53 L244.04 456.91 L245.57 456.28 L247.09 455.65 L248.62 455.02M254.55 452.54 L256.07 451.89 L257.60 451.24 L259.12 450.59 L260.65 449.94M266.58 447.37 L268.11 446.70 L269.63 446.03 L271.15 445.36 L272.68 444.68M278.61 442.04 L280.13 441.35 L281.66 440.66 L283.19 439.97 L284.71 439.27M290.64 436.54 L292.16 435.84 L293.69 435.13 L295.22 434.41 L296.74 433.70M302.67 430.90 L304.19 430.17 L305.72 429.44 L307.25 428.71 L308.77 427.98M314.70 425.10 L316.23 424.35 L317.75 423.61 L319.27 422.85 L320.80 422.10M326.73 419.15 L328.25 418.39 L329.78 417.62 L331.31 416.85 L332.83 416.08M338.76 413.06 L340.28 412.28 L341.81 411.50 L343.34 410.71 L344.86 409.92M350.79 406.84 L352.31 406.04 L353.84 405.23 L355.37 404.43 L356.89 403.62M362.82 400.47 L364.34 399.65 L365.87 398.83 L367.39 398.01 L368.92 397.19M374.85 393.97 L376.38 393.13 L377.90 392.30 L379.43 391.46 L380.95 390.62M386.88 387.34 L388.40 386.49 L389.93 385.63 L391.46 384.78 L392.98 383.92M398.91 380.57 L400.43 379.71 L401.96 378.84 L403.49 377.97 L405.01 377.10M410.94 373.69 L412.46 372.80 L413.99 371.92 L415.51 371.03 L417.04 370.15M422.97 366.67 L424.50 365.78 L426.02 364.88 L427.55 363.97 L429.07 363.07M435.00 359.54 L436.52 358.63 L438.05 357.71 L439.58 356.79 L441.10 355.88" stroke="#ff0000" stroke-width="1.55"/>
<path d="M74.10 503.20 L75.62 503.18 L77.15 503.10 L78.67 503.00 L80.20 502.88M86.13 502.23 L87.66 502.03 L89.18 501.82 L90.70 501.59 L92.23 501.36M98.16 500.35 L99.69 500.06 L101.21 499.77 L102.73 499.47 L104.26 499.16M110.19 497.89 L111.72 497.55 L113.24 497.19 L114.76 496.83 L116.29 496.47M122.22 494.98 L123.75 494.58 L125.27 494.17 L126.79 493.76 L128.32 493.34M134.25 491.66 L135.78 491.22 L137.30 490.76 L138.82 490.31 L140.35 489.84M146.28 488.00 L147.80 487.51 L149.33 487.01 L150.85 486.51 L152.38 486.01M158.31 484.01 L159.84 483.48 L161.36 482.95 L162.88 482.41 L164.41 481.87M170.34 479.72 L171.86 479.15 L173.39 478.58 L174.91 478.01 L176.44 477.44M182.37 475.15 L183.90 474.55 L185.42 473.95 L186.94 473.34 L188.47 472.73M194.40 470.32 L195.92 469.69 L197.45 469.06 L198.97 468.42 L200.50 467.77M206.43 465.24 L207.95 464.58 L209.48 463.91 L211.00 463.25 L212.53 462.57M218.46 459.92 L219.98 459.23 L221.51 458.54 L223.03 457.84 L224.56 457.14M230.49 454.38 L232.01 453.66 L233.54 452.94 L235.06 452.21 L236.59 451.48M242.52 448.62 L244.04 447.87 L245.57 447.12 L247.09 446.37 L248.62 445.61M254.55 442.64 L256.07 441.87 L257.60 441.10 L259.12 440.32 L260.65 439.54M266.58 436.47 L268.11 435.67 L269.63 434.87 L271.15 434.07 L272.68 433.26M278.61 430.09 L280.13 429.27 L281.66 428.45 L283.19 427.62 L284.71 426.79M290.64 423.53 L292.16 422.69 L293.69 421.84 L295.22 420.99 L296.74 420.13M302.67 416.78 L304.19 415.91 L305.72 415.04 L307.25 414.17 L308.77 413.29M314.70 409.85 L316.23 408.96 L317.75 408.07 L319.27 407.17 L320.80 406.27M326.73 402.75 L328.25 401.83 L329.78 400.92 L331.31 400.00 L332.83 399.08M338.76 395.47 L340.28 394.53 L341.81 393.60 L343.34 392.66 L344.86 391.71M350.79 388.02 L352.31 387.07 L353.84 386.11 L355.37 385.15 L356.89 384.18M362.82 380.41 L364.34 379.44 L365.87 378.46 L367.39 377.48 L368.92 376.49M374.85 372.64 L376.38 371.65 L377.90 370.65 L379.43 369.65 L380.95 368.64M386.88 364.72 L388.40 363.70 L389.93 362.68 L391.46 361.66 L392.98 360.64M398.91 356.63 L400.43 355.60 L401.96 354.56 L403.49 353.52 L405.01 352.48M410.94 348.40 L412.46 347.35 L413.99 346.29 L415.51 345.23 L417.04 344.17M422.97 340.02 L424.50 338.95 L426.02 337.87 L427.55 336.79 L429.07 335.71M435.00 331.49 L436.52 330.40 L438.05 329.31 L439.58 328.21 L441.10 327.11" stroke="#ff0000" stroke-width="1.55"/>
<path d="M74.10 503.20 L75.62 503.17 L77.15 503.09 L78.67 502.97 L80.20 502.82M86.13 502.06 L87.66 501.83 L89.18 501.58 L90.70 501.31 L92.23 501.04M98.16 499.85 L99.69 499.52 L101.21 499.18 L102.73 498.83 L104.26 498.47M110.19 496.98 L111.72 496.57 L113.24 496.16 L114.76 495.73 L116.29 495.30M122.22 493.56 L123.75 493.09 L125.27 492.61 L126.79 492.13 L128.32 491.64M134.25 489.67 L135.78 489.15 L137.30 488.62 L138.82 488.08 L140.35 487.54M146.28 485.37 L147.80 484.80 L149.33 484.22 L150.85 483.63 L152.38 483.04M158.31 480.69 L159.84 480.07 L161.36 479.45 L162.88 478.82 L164.41 478.18M170.34 475.66 L171.86 475.00 L173.39 474.34 L174.91 473.66 L176.44 472.99M182.37 470.31 L183.90 469.61 L185.42 468.90 L186.94 468.19 L188.47 467.47M194.40 464.64 L195.92 463.91 L197.45 463.16 L198.97 462.41 L200.50 461.66M206.43 458.69 L207.95 457.91 L209.48 457.13 L211.00 456.35 L212.53 455.56M218.46 452.45 L219.98 451.64 L221.51 450.83 L223.03 450.01 L224.56 449.19M230.49 445.95 L232.01 445.11 L233.54 444.26 L235.06 443.41 L236.59 442.56M242.52 439.20 L244.04 438.32 L245.57 437.44 L247.09 436.56 L248.62 435.67M254.55 432.19 L256.07 431.29 L257.60 430.38 L259.12 429.47 L260.65 428.55M266.58 424.95 L268.11 424.01 L269.63 423.08 L271.15 422.13 L272.68 421.19M278.61 417.48 L280.13 416.51 L281.66 415.55 L283.19 414.58 L284.71 413.60M290.64 409.78 L292.16 408.79 L293.69 407.79 L295.22 406.79 L296.74 405.79M302.67 401.86 L304.19 400.85 L305.72 399.82 L307.25 398.80 L308.77 397.77M314.70 393.74 L316.23 392.69 L317.75 391.65 L319.27 390.59 L320.80 389.54M326.73 385.41 L328.25 384.34 L329.78 383.26 L331.31 382.18 L332.83 381.10M338.76 376.87 L340.28 375.78 L341.81 374.68 L343.34 373.58 L344.86 372.47M350.79 368.14 L352.31 367.02 L353.84 365.90 L355.37 364.77 L356.89 363.64M362.82 359.22 L364.34 358.07 L365.87 356.93 L367.39 355.78 L368.92 354.62M374.85 350.11 L376.38 348.94 L377.90 347.77 L379.43 346.59 L380.95 345.42M386.88 340.81 L388.40 339.62 L389.93 338.43 L391.46 337.23 L392.98 336.03M398.91 331.34 L400.43 330.12 L401.96 328.91 L403.49 327.69 L405.01 326.46M410.94 321.68 L412.46 320.45 L413.99 319.21 L415.51 317.97 L417.04 316.72M422.97 311.85 L424.50 310.60 L426.02 309.34 L427.55 308.07 L429.07 306.81M435.00 301.86 L436.52 300.58 L438.05 299.29 L439.58 298.01 L441.10 296.72" stroke="#ff0000" stroke-width="1.55"/>
<path d="M74.10 503.20 L75.62 503.17 L77.15 503.07 L78.67 502.93 L80.20 502.76M86.13 501.89 L87.66 501.61 L89.18 501.33 L90.70 501.02 L92.23 500.70M98.16 499.34 L99.69 498.95 L101.21 498.56 L102.73 498.15 L104.26 497.74M110.19 496.01 L111.72 495.54 L113.24 495.07 L114.76 494.58 L116.29 494.08M122.22 492.06 L123.75 491.52 L125.27 490.97 L126.79 490.42 L128.32 489.85M134.25 487.58 L135.78 486.97 L137.30 486.36 L138.82 485.74 L140.35 485.12M146.28 482.61 L147.80 481.95 L149.33 481.28 L150.85 480.61 L152.38 479.93M158.31 477.21 L159.84 476.50 L161.36 475.78 L162.88 475.05 L164.41 474.31M170.34 471.40 L171.86 470.64 L173.39 469.87 L174.91 469.10 L176.44 468.31M182.37 465.22 L183.90 464.41 L185.42 463.59 L186.94 462.77 L188.47 461.95M194.40 458.68 L195.92 457.83 L197.45 456.97 L198.97 456.10 L200.50 455.23M206.43 451.80 L207.95 450.91 L209.48 450.01 L211.00 449.10 L212.53 448.19M218.46 444.60 L219.98 443.67 L221.51 442.73 L223.03 441.78 L224.56 440.83M230.49 437.10 L232.01 436.12 L233.54 435.15 L235.06 434.16 L236.59 433.18M242.52 429.29 L244.04 428.28 L245.57 427.27 L247.09 426.25 L248.62 425.23M254.55 421.21 L256.07 420.16 L257.60 419.11 L259.12 418.06 L260.65 417.00M266.58 412.84 L268.11 411.76 L269.63 410.68 L271.15 409.59 L272.68 408.50M278.61 404.21 L280.13 403.10 L281.66 401.99 L283.19 400.86 L284.71 399.74M290.64 395.33 L292.16 394.18 L293.69 393.03 L295.22 391.88 L296.74 390.72M302.67 386.19 L304.19 385.01 L305.72 383.83 L307.25 382.65 L308.77 381.46M314.70 376.81 L316.23 375.60 L317.75 374.39 L319.27 373.17 L320.80 371.96M326.73 367.18 L328.25 365.95 L329.78 364.71 L331.31 363.46 L332.83 362.22M338.76 357.33 L340.28 356.06 L341.81 354.80 L343.34 353.52 L344.86 352.25M350.79 347.25 L352.31 345.95 L353.84 344.66 L355.37 343.36 L356.89 342.05M362.82 336.95 L364.34 335.62 L365.87 334.30 L367.39 332.97 L368.92 331.64M374.85 326.43 L376.38 325.08 L377.90 323.72 L379.43 322.37 L380.95 321.01M386.88 315.69 L388.40 314.32 L389.93 312.94 L391.46 311.55 L392.98 310.17M398.91 304.75 L400.43 303.35 L401.96 301.94 L403.49 300.53 L405.01 299.12M410.94 293.60 L412.46 292.17 L413.99 290.74 L415.51 289.31 L417.04 287.87M422.97 282.25 L424.50 280.80 L426.02 279.34 L427.55 277.89 L429.07 276.42M435.00 270.71 L436.52 269.23 L438.05 267.75 L439.58 266.27 L441.10 264.78" stroke="#ff0000" stroke-width="1.55"/>
</g>
<path d="M123.22 502.70 v-4.20M123.22 132.80 v4.20M171.75 502.70 v-7.30M171.75 132.80 v7.30M220.27 502.70 v-4.20M220.27 132.80 v4.20M268.80 502.70 v-7.30M268.80 132.80 v7.30M317.32 502.70 v-4.20M317.32 132.80 v4.20M365.85 502.70 v-7.30M365.85 132.80 v7.30M414.38 502.70 v-4.20M414.38 132.80 v4.20M74.70 479.59 h4.30M74.70 456.49 h4.30M74.70 433.38 h4.30M74.70 410.27 h7.50M74.70 387.16 h4.30M74.70 364.05 h4.30M74.70 340.95 h4.30M74.70 317.84 h7.50M74.70 294.73 h4.30M74.70 271.62 h4.30M74.70 248.52 h4.30M74.70 225.41 h7.50M74.70 202.30 h4.30M74.70 179.19 h4.30M74.70 156.09 h4.30" stroke="#000" fill="none" stroke-width="1.3"/>
<g stroke="#000" fill="none">
<rect x="126.10" y="144.40" width="196.70" height="157.30" stroke-width="1.3"/>
<path d="M135.94 301.70 v-2.00M135.94 144.40 v2.00M145.77 301.70 v-3.60M145.77 144.40 v3.60M155.60 301.70 v-2.00M155.60 144.40 v2.00M165.44 301.70 v-3.60M165.44 144.40 v3.60M175.28 301.70 v-2.00M175.28 144.40 v2.00M185.11 301.70 v-3.60M185.11 144.40 v3.60M194.94 301.70 v-2.00M194.94 144.40 v2.00M204.78 301.70 v-3.60M204.78 144.40 v3.60M214.62 301.70 v-2.00M214.62 144.40 v2.00M224.45 301.70 v-3.60M224.45 144.40 v3.60M234.28 301.70 v-2.00M234.28 144.40 v2.00M244.12 301.70 v-3.60M244.12 144.40 v3.60M253.96 301.70 v-2.00M253.96 144.40 v2.00M263.79 301.70 v-3.60M263.79 144.40 v3.60M273.62 301.70 v-2.00M273.62 144.40 v2.00M283.46 301.70 v-3.60M283.46 144.40 v3.60M293.30 301.70 v-2.00M293.30 144.40 v2.00M303.13 301.70 v-3.60M303.13 144.40 v3.60M312.97 301.70 v-2.00M312.97 144.40 v2.00M126.10 288.97 h2.10M322.80 288.97 h-2.10M126.10 275.83 h3.50M322.80 275.83 h-3.50M126.10 262.69 h2.10M322.80 262.69 h-2.10M126.10 249.54 h3.50M322.80 249.54 h-3.50M126.10 236.40 h2.10M322.80 236.40 h-2.10M126.10 223.26 h3.50M322.80 223.26 h-3.50M126.10 210.12 h2.10M322.80 210.12 h-2.10M126.10 196.97 h3.50M322.80 196.97 h-3.50M126.10 183.83 h2.10M322.80 183.83 h-2.10M126.10 170.69 h3.50M322.80 170.69 h-3.50M126.10 157.54 h2.10M322.80 157.54 h-2.10" stroke-width="1.0"/>
</g>
<g clip-path="url(#ic)" fill="none" stroke-linejoin="round">
<polyline points="126.10,301.70 128.56,301.70 131.02,301.70 133.48,301.70 135.94,301.70 138.39,301.69 140.85,301.69 143.31,301.69 145.77,301.68 148.23,301.68 150.69,301.67 153.15,301.67 155.60,301.66 158.06,301.65 160.52,301.64 162.98,301.63 165.44,301.62 167.90,301.61 170.36,301.59 172.82,301.58 175.28,301.56 177.73,301.55 180.19,301.53 182.65,301.51 185.11,301.49 187.57,301.47 190.03,301.45 192.49,301.43 194.94,301.40 197.40,301.38 199.86,301.35 202.32,301.33 204.78,301.30 207.24,301.27 209.70,301.24 212.16,301.21 214.62,301.17 217.07,301.14 219.53,301.10 221.99,301.07 224.45,301.03 226.91,300.99 229.37,300.95 231.83,300.91 234.28,300.87 236.74,300.82 239.20,300.78 241.66,300.73 244.12,300.68 246.58,300.63 249.04,300.58 251.50,300.53 253.96,300.47 256.41,300.42 258.87,300.36 261.33,300.31 263.79,300.25 266.25,300.19 268.71,300.12 271.17,300.06 273.62,300.00 276.08,299.93 278.54,299.86 281.00,299.79 283.46,299.72 285.92,299.65 288.38,299.58 290.84,299.50 293.30,299.43 295.75,299.35 298.21,299.27 300.67,299.19 303.13,299.11 305.59,299.03 308.05,298.94 310.51,298.85 312.97,298.77 315.42,298.68 317.88,298.59 320.34,298.49 322.80,298.40" stroke="#000000" stroke-width="1.6"/>
<polyline points="126.10,301.70 128.56,301.70 131.02,301.70 133.48,301.69 135.94,301.69 138.39,301.68 140.85,301.67 143.31,301.66 145.77,301.65 148.23,301.63 150.69,301.61 153.15,301.59 155.60,301.57 158.06,301.54 160.52,301.52 162.98,301.48 165.44,301.45 167.90,301.41 170.36,301.37 172.82,301.33 175.28,301.28 177.73,301.23 180.19,301.18 182.65,301.13 185.11,301.07 187.57,301.01 190.03,300.94 192.49,300.87 194.94,300.80 197.40,300.73 199.86,300.65 202.32,300.56 204.78,300.48 207.24,300.39 209.70,300.30 212.16,300.20 214.62,300.10 217.07,300.00 219.53,299.89 221.99,299.78 224.45,299.66 226.91,299.55 229.37,299.42 231.83,299.30 234.28,299.17 236.74,299.03 239.20,298.90 241.66,298.75 244.12,298.61 246.58,298.46 249.04,298.31 251.50,298.15 253.96,297.99 256.41,297.82 258.87,297.65 261.33,297.48 263.79,297.30 266.25,297.12 268.71,296.93 271.17,296.74 273.62,296.55 276.08,296.35 278.54,296.15 281.00,295.94 283.46,295.73 285.92,295.51 288.38,295.29 290.84,295.07 293.30,294.84 295.75,294.60 298.21,294.37 300.67,294.12 303.13,293.88 305.59,293.63 308.05,293.37 310.51,293.11 312.97,292.85 315.42,292.58 317.88,292.30 320.34,292.03 322.80,291.74" stroke="#ff0000" stroke-width="1.6"/>
<polyline points="126.10,301.70 128.56,301.70 131.02,301.69 133.48,301.68 135.94,301.66 138.39,301.63 140.85,301.60 143.31,301.56 145.77,301.52 148.23,301.47 150.69,301.41 153.15,301.35 155.60,301.28 158.06,301.21 160.52,301.13 162.98,301.04 165.44,300.95 167.90,300.85 170.36,300.75 172.82,300.63 175.28,300.52 177.73,300.39 180.19,300.26 182.65,300.12 185.11,299.98 187.57,299.83 190.03,299.67 192.49,299.51 194.94,299.34 197.40,299.16 199.86,298.98 202.32,298.79 204.78,298.60 207.24,298.39 209.70,298.19 212.16,297.97 214.62,297.75 217.07,297.52 219.53,297.29 221.99,297.04 224.45,296.80 226.91,296.54 229.37,296.28 231.83,296.01 234.28,295.74 236.74,295.46 239.20,295.17 241.66,294.88 244.12,294.57 246.58,294.27 249.04,293.95 251.50,293.63 253.96,293.30 256.41,292.97 258.87,292.63 261.33,292.28 263.79,291.93 266.25,291.57 268.71,291.20 271.17,290.82 273.62,290.44 276.08,290.05 278.54,289.66 281.00,289.26 283.46,288.85 285.92,288.43 288.38,288.01 290.84,287.58 293.30,287.15 295.75,286.71 298.21,286.26 300.67,285.80 303.13,285.34 305.59,284.87 308.05,284.39 310.51,283.91 312.97,283.42 315.42,282.93 317.88,282.42 320.34,281.91 322.80,281.39" stroke="#00ff00" stroke-width="1.6"/>
<polyline points="126.10,301.70 128.56,301.70 131.02,301.69 133.48,301.67 135.94,301.65 138.39,301.62 140.85,301.57 143.31,301.53 145.77,301.47 148.23,301.40 150.69,301.32 153.15,301.24 155.60,301.14 158.06,301.04 160.52,300.92 162.98,300.80 165.44,300.67 167.90,300.52 170.36,300.37 172.82,300.20 175.28,300.03 177.73,299.84 180.19,299.65 182.65,299.44 185.11,299.23 187.57,299.00 190.03,298.76 192.49,298.52 194.94,298.26 197.40,297.99 199.86,297.71 202.32,297.41 204.78,297.11 207.24,296.80 209.70,296.47 212.16,296.14 214.62,295.79 217.07,295.43 219.53,295.06 221.99,294.68 224.45,294.29 226.91,293.88 229.37,293.47 231.83,293.04 234.28,292.60 236.74,292.15 239.20,291.69 241.66,291.21 244.12,290.73 246.58,290.23 249.04,289.72 251.50,289.20 253.96,288.67 256.41,288.12 258.87,287.57 261.33,287.00 263.79,286.42 266.25,285.82 268.71,285.22 271.17,284.60 273.62,283.97 276.08,283.33 278.54,282.68 281.00,282.01 283.46,281.33 285.92,280.64 288.38,279.94 290.84,279.22 293.30,278.50 295.75,277.76 298.21,277.01 300.67,276.24 303.13,275.46 305.59,274.67 308.05,273.87 310.51,273.06 312.97,272.23 315.42,271.39 317.88,270.54 320.34,269.67 322.80,268.79" stroke="#0000ff" stroke-width="1.6"/>
<polyline points="126.10,301.70 128.56,301.70 131.02,301.68 133.48,301.65 135.94,301.61 138.39,301.56 140.85,301.49 143.31,301.41 145.77,301.31 148.23,301.21 150.69,301.08 153.15,300.95 155.60,300.80 158.06,300.63 160.52,300.45 162.98,300.26 165.44,300.05 167.90,299.83 170.36,299.59 172.82,299.33 175.28,299.06 177.73,298.78 180.19,298.48 182.65,298.16 185.11,297.83 187.57,297.49 190.03,297.12 192.49,296.75 194.94,296.35 197.40,295.95 199.86,295.52 202.32,295.08 204.78,294.62 207.24,294.15 209.70,293.66 212.16,293.16 214.62,292.64 217.07,292.10 219.53,291.55 221.99,290.98 224.45,290.39 226.91,289.79 229.37,289.17 231.83,288.54 234.28,287.89 236.74,287.22 239.20,286.54 241.66,285.84 244.12,285.12 246.58,284.39 249.04,283.64 251.50,282.87 253.96,282.08 256.41,281.28 258.87,280.47 261.33,279.63 263.79,278.78 266.25,277.91 268.71,277.03 271.17,276.13 273.62,275.21 276.08,274.27 278.54,273.32 281.00,272.35 283.46,271.36 285.92,270.36 288.38,269.34 290.84,268.30 293.30,267.24 295.75,266.17 298.21,265.08 300.67,263.98 303.13,262.85 305.59,261.71 308.05,260.55 310.51,259.37 312.97,258.18 315.42,256.97 317.88,255.74 320.34,254.49 322.80,253.23" stroke="#00ffff" stroke-width="1.6"/>
<polyline points="126.10,301.70 128.56,301.69 131.02,301.66 133.48,301.62 135.94,301.55 138.39,301.46 140.85,301.35 143.31,301.23 145.77,301.08 148.23,300.91 150.69,300.72 153.15,300.51 155.60,300.29 158.06,300.04 160.52,299.77 162.98,299.48 165.44,299.16 167.90,298.83 170.36,298.48 172.82,298.10 175.28,297.71 177.73,297.29 180.19,296.86 182.65,296.40 185.11,295.92 187.57,295.42 190.03,294.90 192.49,294.36 194.94,293.80 197.40,293.22 199.86,292.61 202.32,291.99 204.78,291.34 207.24,290.67 209.70,289.98 212.16,289.27 214.62,288.54 217.07,287.79 219.53,287.02 221.99,286.22 224.45,285.41 226.91,284.57 229.37,283.71 231.83,282.83 234.28,281.93 236.74,281.00 239.20,280.06 241.66,279.09 244.12,278.11 246.58,277.10 249.04,276.07 251.50,275.02 253.96,273.94 256.41,272.85 258.87,271.73 261.33,270.60 263.79,269.44 266.25,268.26 268.71,267.06 271.17,265.83 273.62,264.59 276.08,263.32 278.54,262.03 281.00,260.72 283.46,259.39 285.92,258.04 288.38,256.67 290.84,255.27 293.30,253.85 295.75,252.41 298.21,250.95 300.67,249.47 303.13,247.97 305.59,246.44 308.05,244.89 310.51,243.32 312.97,241.73 315.42,240.12 317.88,238.49 320.34,236.83 322.80,235.15" stroke="#ff00ff" stroke-width="1.6"/>
<polyline points="126.10,301.70 128.56,301.69 131.02,301.65 133.48,301.58 135.94,301.48 138.39,301.36 140.85,301.22 143.31,301.04 145.77,300.84 148.23,300.61 150.69,300.35 153.15,300.07 155.60,299.76 158.06,299.42 160.52,299.06 162.98,298.67 165.44,298.25 167.90,297.81 170.36,297.34 172.82,296.84 175.28,296.31 177.73,295.76 180.19,295.18 182.65,294.58 185.11,293.94 187.57,293.28 190.03,292.60 192.49,291.88 194.94,291.14 197.40,290.37 199.86,289.58 202.32,288.76 204.78,287.91 207.24,287.03 209.70,286.13 212.16,285.20 214.62,284.24 217.07,283.26 219.53,282.25 221.99,281.21 224.45,280.15 226.91,279.06 229.37,277.94 231.83,276.80 234.28,275.63 236.74,274.43 239.20,273.20 241.66,271.95 244.12,270.67 246.58,269.36 249.04,268.03 251.50,266.67 253.96,265.28 256.41,263.87 258.87,262.43 261.33,260.96 263.79,259.46 266.25,257.94 268.71,256.39 271.17,254.82 273.62,253.21 276.08,251.58 278.54,249.93 281.00,248.24 283.46,246.53 285.92,244.80 288.38,243.03 290.84,241.24 293.30,239.42 295.75,237.58 298.21,235.70 300.67,233.81 303.13,231.88 305.59,229.93 308.05,227.95 310.51,225.94 312.97,223.91 315.42,221.85 317.88,219.76 320.34,217.64 322.80,215.50" stroke="#ffff00" stroke-width="1.6"/>
<polyline points="126.10,301.70 128.56,301.68 131.02,301.62 133.48,301.53 135.94,301.40 138.39,301.24 140.85,301.04 143.31,300.81 145.77,300.54 148.23,300.23 150.69,299.90 153.15,299.52 155.60,299.12 158.06,298.68 160.52,298.20 162.98,297.69 165.44,297.15 167.90,296.57 170.36,295.96 172.82,295.31 175.28,294.63 177.73,293.92 180.19,293.17 182.65,292.39 185.11,291.58 187.57,290.73 190.03,289.85 192.49,288.94 194.94,287.99 197.40,287.01 199.86,285.99 202.32,284.94 204.78,283.86 207.24,282.75 209.70,281.60 212.16,280.42 214.62,279.20 217.07,277.96 219.53,276.67 221.99,275.36 224.45,274.01 226.91,272.63 229.37,271.22 231.83,269.77 234.28,268.29 236.74,266.78 239.20,265.24 241.66,263.66 244.12,262.05 246.58,260.40 249.04,258.73 251.50,257.02 253.96,255.28 256.41,253.50 258.87,251.69 261.33,249.85 263.79,247.98 266.25,246.07 268.71,244.13 271.17,242.16 273.62,240.16 276.08,238.12 278.54,236.05 281.00,233.95 283.46,231.81 285.92,229.65 288.38,227.45 290.84,225.21 293.30,222.95 295.75,220.65 298.21,218.32 300.67,215.96 303.13,213.56 305.59,211.13 308.05,208.67 310.51,206.18 312.97,203.66 315.42,201.10 317.88,198.51 320.34,195.89 322.80,193.23" stroke="#808000" stroke-width="1.6"/>
<polyline points="126.10,301.70 128.56,301.67 131.02,301.60 133.48,301.48 135.94,301.32 138.39,301.11 140.85,300.85 143.31,300.56 145.77,300.22 148.23,299.83 150.69,299.41 153.15,298.94 155.60,298.43 158.06,297.87 160.52,297.28 162.98,296.64 165.44,295.96 167.90,295.24 170.36,294.48 172.82,293.68 175.28,292.84 177.73,291.95 180.19,291.03 182.65,290.06 185.11,289.05 187.57,288.01 190.03,286.92 192.49,285.79 194.94,284.62 197.40,283.41 199.86,282.16 202.32,280.87 204.78,279.54 207.24,278.17 209.70,276.76 212.16,275.31 214.62,273.82 217.07,272.29 219.53,270.72 221.99,269.11 224.45,267.46 226.91,265.77 229.37,264.04 231.83,262.27 234.28,260.46 236.74,258.61 239.20,256.73 241.66,254.80 244.12,252.84 246.58,250.83 249.04,248.79 251.50,246.70 253.96,244.58 256.41,242.42 258.87,240.22 261.33,237.98 263.79,235.70 266.25,233.38 268.71,231.03 271.17,228.63 273.62,226.20 276.08,223.72 278.54,221.21 281.00,218.66 283.46,216.07 285.92,213.44 288.38,210.78 290.84,208.07 293.30,205.33 295.75,202.54 298.21,199.72 300.67,196.86 303.13,193.96 305.59,191.03 308.05,188.05 310.51,185.04 312.97,181.98 315.42,178.89 317.88,175.76 320.34,172.60 322.80,169.39" stroke="#000080" stroke-width="1.6"/>
<polyline points="126.10,301.70 128.56,301.66 131.02,301.56 133.48,301.39 135.94,301.17 138.39,300.89 140.85,300.55 143.31,300.16 145.77,299.72 148.23,299.22 150.69,298.68 153.15,298.08 155.60,297.42 158.06,296.72 160.52,295.97 162.98,295.17 165.44,294.31 167.90,293.41 170.36,292.46 172.82,291.46 175.28,290.41 177.73,289.32 180.19,288.17 182.65,286.98 185.11,285.74 187.57,284.45 190.03,283.12 192.49,281.74 194.94,280.31 197.40,278.84 199.86,277.32 202.32,275.75 204.78,274.13 207.24,272.47 209.70,270.77 212.16,269.02 214.62,267.22 217.07,265.38 219.53,263.49 221.99,261.56 224.45,259.58 226.91,257.56 229.37,255.49 231.83,253.38 234.28,251.22 236.74,249.02 239.20,246.77 241.66,244.48 244.12,242.14 246.58,239.76 249.04,237.34 251.50,234.87 253.96,232.36 256.41,229.80 258.87,227.20 261.33,224.56 263.79,221.88 266.25,219.14 268.71,216.37 271.17,213.55 273.62,210.69 276.08,207.79 278.54,204.84 281.00,201.85 283.46,198.82 285.92,195.75 288.38,192.63 290.84,189.47 293.30,186.26 295.75,183.02 298.21,179.73 300.67,176.39 303.13,173.02 305.59,169.60 308.05,166.14 310.51,162.64 312.97,159.10 315.42,155.51 317.88,151.88 320.34,148.21 322.80,144.50" stroke="#800080" stroke-width="1.6"/>
</g>
<g fill="none" stroke-width="1.4">
<path d="M138.3 167.00 H159.4" stroke="#000000"/>
<path d="M138.3 178.30 H159.4" stroke="#ff0000"/>
<path d="M138.3 189.60 H159.4" stroke="#00ff00"/>
<path d="M138.3 200.90 H159.4" stroke="#0000ff"/>
<path d="M138.3 212.20 H159.4" stroke="#00ffff"/>
<path d="M138.3 223.50 H159.4" stroke="#ff00ff"/>
<path d="M138.3 234.80 H159.4" stroke="#ffff00"/>
<path d="M138.3 246.10 H159.4" stroke="#808000"/>
<path d="M138.3 257.40 H159.4" stroke="#000080"/>
<path d="M138.3 268.70 H159.4" stroke="#800080"/>
</g>
<rect x="96.6" y="379.3" width="48" height="27.1" fill="#fff" stroke="#333" stroke-width="0.8"/>
<g font-family="Liberation Serif, serif" fill="#000">
<text x="66.9" y="507.00" font-size="13.7" text-anchor="end">0.00</text>
<text x="66.9" y="414.57" font-size="13.7" text-anchor="end">0.01</text>
<text x="66.9" y="322.14" font-size="13.7" text-anchor="end">0.02</text>
<text x="66.9" y="229.71" font-size="13.7" text-anchor="end">0.03</text>
<text x="66.9" y="137.28" font-size="13.7" text-anchor="end">0.04</text>
<text x="74.50" y="521" font-size="13.7" text-anchor="middle">0.0</text>
<text x="171.55" y="521" font-size="13.7" text-anchor="middle">0.5</text>
<text x="268.60" y="521" font-size="13.7" text-anchor="middle">1.0</text>
<text x="365.65" y="521" font-size="13.7" text-anchor="middle">1.5</text>
<text x="312.8" y="550.8" font-size="23" text-anchor="middle">B(T)</text>
<text transform="translate(24.4 336.9) rotate(-90)" font-size="25.3" text-anchor="middle">LL(eV)</text>
<g font-size="8.8" stroke="#000" stroke-width="0.2">
<text x="123.0" y="305.02" text-anchor="end">0.0</text>
<text x="123.0" y="278.73" text-anchor="end">-0.1</text>
<text x="123.0" y="252.44" text-anchor="end">-0.2</text>
<text x="123.0" y="226.16" text-anchor="end">-0.3</text>
<text x="123.0" y="199.87" text-anchor="end">-0.4</text>
<text x="123.0" y="173.59" text-anchor="end">-0.5</text>
<text x="123.0" y="147.30" text-anchor="end">-0.6</text>
<text x="126.10" y="312.8" text-anchor="middle">0</text>
<text x="145.77" y="312.8" text-anchor="middle">2</text>
<text x="165.44" y="312.8" text-anchor="middle">4</text>
<text x="185.11" y="312.8" text-anchor="middle">6</text>
<text x="204.78" y="312.8" text-anchor="middle">8</text>
<text x="224.45" y="312.8" text-anchor="middle">10</text>
<text x="244.12" y="312.8" text-anchor="middle">12</text>
<text x="263.79" y="312.8" text-anchor="middle">14</text>
<text x="283.46" y="312.8" text-anchor="middle">16</text>
<text x="303.13" y="312.8" text-anchor="middle">18</text>
<text x="322.80" y="312.8" text-anchor="middle">20</text>
<text x="161.7" y="169.90">1</text>
<text x="161.7" y="181.20">2</text>
<text x="161.7" y="192.50">3</text>
<text x="161.7" y="203.80">4</text>
<text x="161.7" y="215.10">5</text>
<text x="161.7" y="226.40">6</text>
<text x="161.7" y="237.70">7</text>
<text x="161.7" y="249.00">8</text>
<text x="161.7" y="260.30">9</text>
<text x="161.7" y="271.60">10</text>
</g>
<text x="216.9" y="327.6" font-size="14.5" text-anchor="middle">B(T)</text>
<text transform="translate(96.6 235.6) rotate(-90)" font-size="15.3" text-anchor="middle">ε<tspan font-size="9.5" dy="4.9">n</tspan><tspan dy="-4.9">(eV)</tspan></text>
</g>
<g font-family="Liberation Sans, sans-serif" fill="#000">
<text x="120.5" y="399.2" font-size="17.2" text-anchor="middle">ABC</text>
<text x="150.8" y="161" font-size="12.3" text-anchor="middle">n</text>
</g>
</svg>
</body></html>
